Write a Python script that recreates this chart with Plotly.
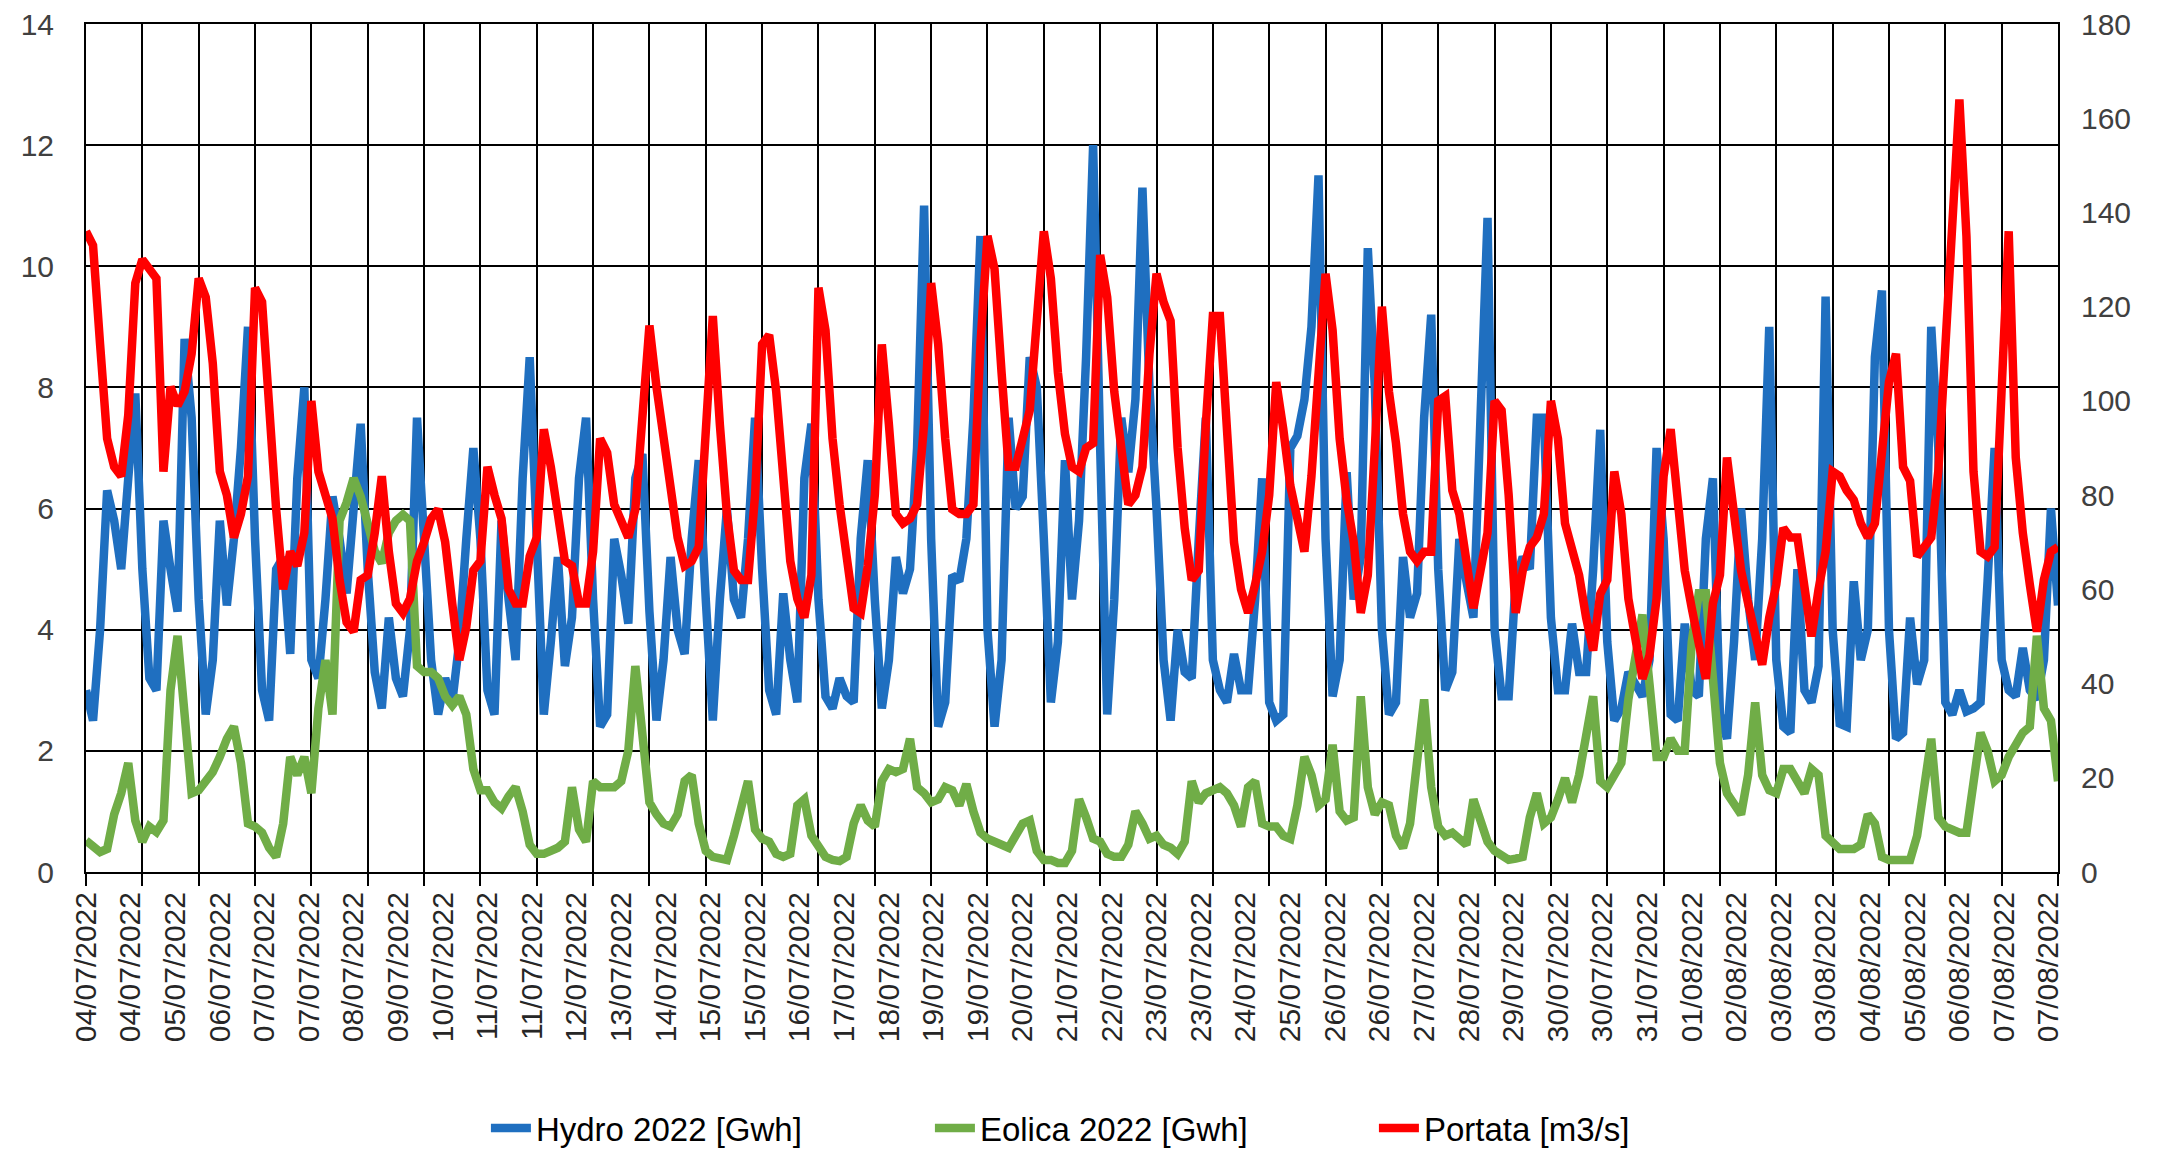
import plotly.graph_objects as go

# ---- data: 3-hourly readings (hours 0,3,...,840) from 04/07/2022 00:00 ----
hydro = [
    3.0, 2.5, 4.0, 6.3, 5.8, 5.0, 6.5, 7.9,
    5.0, 3.2, 3.0, 5.8, 5.0, 4.3, 8.8, 7.5,
    4.5, 2.6, 3.5, 5.8, 4.4, 5.5, 7.0, 9.0,
    5.5, 3.0, 2.5, 5.0, 5.2, 3.6, 6.5, 8.0,
    3.5, 3.2, 4.5, 6.2, 5.5, 4.6, 6.0, 7.4,
    5.0, 3.3, 2.7, 4.2, 3.2, 2.9, 4.0, 7.5,
    5.5, 3.5, 2.6, 3.2, 2.8, 3.8, 5.5, 7.0,
    5.5, 3.0, 2.6, 5.8, 4.5, 3.5, 6.5, 8.5,
    5.5, 2.6, 3.8, 5.2, 3.4, 4.2, 6.5, 7.5,
    4.5, 2.4, 2.6, 5.5, 4.9, 4.1, 6.5, 6.9,
    4.3, 2.5, 3.5, 5.2, 4.0, 3.6, 5.5, 6.8,
    4.5, 2.5, 4.5, 6.0, 4.5, 4.2, 5.5, 7.5,
    5.0, 3.0, 2.6, 4.6, 3.5, 2.8, 6.5, 7.4,
    4.5, 2.9, 2.7, 3.2, 2.9, 2.8, 5.5, 6.8,
    4.5, 2.7, 3.5, 5.2, 4.6, 5.0, 7.0, 11.0,
    5.5, 2.4, 2.8, 4.9, 4.8, 5.5, 7.5, 10.5,
    4.0, 2.4, 3.5, 7.5, 6.0, 6.2, 8.5, 8.0,
    5.5, 2.8, 3.8, 6.8, 4.5, 5.8, 8.5, 12.0,
    7.0, 2.6, 4.5, 7.5, 6.6, 7.8, 11.3, 8.0,
    6.0, 3.5, 2.5, 4.0, 3.3, 3.2, 5.5, 7.5,
    3.5, 3.0, 2.8, 3.6, 3.0, 3.0, 4.5, 6.5,
    2.8, 2.5, 2.6, 7.0, 7.2, 7.8, 9.0, 11.5,
    5.5, 2.9, 3.5, 6.6, 4.5, 5.2, 10.3, 8.0,
    4.0, 2.6, 2.8, 5.2, 4.2, 4.6, 7.5, 9.2,
    5.0, 3.0, 3.3, 5.5, 4.8, 4.2, 7.5, 10.8,
    4.0, 2.9, 2.9, 4.8, 5.2, 5.0, 7.5, 7.5,
    4.2, 3.0, 3.0, 4.1, 3.3, 3.3, 5.0, 7.3,
    3.8, 2.5, 2.7, 3.3, 3.1, 2.9, 3.5, 7.0,
    5.5, 2.6, 2.5, 4.1, 3.0, 2.9, 5.5, 6.5,
    2.6, 2.2, 3.8, 6.0, 4.5, 3.5, 5.5, 9.0,
    3.5, 2.4, 2.3, 5.0, 3.0, 2.8, 3.4, 9.5,
    4.0, 2.45, 2.4, 4.8, 3.5, 4.0, 8.5, 9.6,
    4.0, 2.2, 2.3, 4.2, 3.1, 3.5, 9.0, 7.0,
    2.8, 2.6, 3.0, 2.65, 2.7, 2.8, 4.8, 7.0,
    3.5, 3.0, 2.9, 3.7, 3.0, 2.85, 3.5, 6.0,
    4.4,
]

eolica = [
    0.52, 0.43, 0.33, 0.38, 0.95, 1.3, 1.8, 0.85,
    0.5, 0.75, 0.66, 0.85, 3.0, 3.9, 2.55, 1.3,
    1.35, 1.5, 1.65, 1.9, 2.2, 2.4, 1.8, 0.8,
    0.75, 0.65, 0.4, 0.25, 0.8, 1.9, 1.6, 1.9,
    1.3, 2.7, 3.5, 2.6, 5.8, 6.1, 6.5, 6.2,
    5.7, 5.3, 5.1, 5.6, 5.8, 5.9, 5.8, 3.4,
    3.3, 3.3, 3.2, 2.9, 2.75, 2.9, 2.6, 1.7,
    1.35, 1.35, 1.15, 1.05, 1.25, 1.4, 1.0, 0.45,
    0.3, 0.3, 0.35, 0.4, 0.5, 1.4, 0.7, 0.5,
    1.5, 1.4, 1.4, 1.4, 1.5, 2.0, 3.4, 2.2,
    1.15, 0.95, 0.8, 0.75, 0.95, 1.5, 1.6, 0.8,
    0.35, 0.25, 0.22, 0.2, 0.6, 1.1, 1.5, 0.7,
    0.55, 0.5, 0.3, 0.25, 0.3, 1.1, 1.2, 0.6,
    0.45, 0.25, 0.2, 0.18, 0.25, 0.8, 1.1, 0.85,
    0.75, 1.5, 1.7, 1.65, 1.7, 2.2, 1.4, 1.3,
    1.15, 1.2, 1.4, 1.35, 1.1, 1.45, 1.0, 0.65,
    0.55, 0.5, 0.45, 0.4, 0.6, 0.8, 0.85, 0.35,
    0.2, 0.2, 0.15, 0.15, 0.35, 1.2, 0.9, 0.55,
    0.5, 0.3, 0.25, 0.25, 0.45, 1.0, 0.8, 0.55,
    0.6, 0.45, 0.4, 0.3, 0.5, 1.5, 1.15, 1.3,
    1.35, 1.4, 1.3, 1.1, 0.75, 1.4, 1.5, 0.8,
    0.75, 0.75, 0.6, 0.55, 1.1, 1.9, 1.6, 1.1,
    1.2, 2.1, 1.0, 0.85, 0.9, 2.9, 1.4, 0.95,
    1.15, 1.1, 0.6, 0.4, 0.8, 2.0, 2.85, 1.4,
    0.75, 0.6, 0.65, 0.55, 0.45, 1.2, 0.8, 0.5,
    0.35, 0.28, 0.2, 0.22, 0.25, 0.9, 1.3, 0.8,
    0.9, 1.2, 1.55, 1.15, 1.6, 2.25, 2.9, 1.5,
    1.4, 1.6, 1.8, 2.85, 3.5, 4.25, 3.1, 1.9,
    1.9, 2.2, 2.0, 2.0, 3.8, 4.6, 4.6, 3.0,
    1.8, 1.3, 1.15, 0.95, 1.6, 2.8, 1.6, 1.35,
    1.3, 1.7, 1.7, 1.5, 1.3, 1.7, 1.6, 0.6,
    0.5, 0.38, 0.38, 0.38, 0.45, 0.95, 0.8, 0.25,
    0.2, 0.2, 0.2, 0.2, 0.6, 1.5, 2.2, 0.9,
    0.75, 0.7, 0.65, 0.65, 1.5, 2.3, 2.0, 1.5,
    1.6, 1.9, 2.1, 2.3, 2.4, 3.9, 2.7, 2.5,
    1.5,
]

portata = [
    136, 133, 112, 92, 86, 84, 97, 125,
    130, 128, 126, 85, 103, 99, 102, 110,
    126, 122, 108, 85, 80, 71, 76, 84,
    124, 121, 98, 77, 60, 68, 65, 72,
    100, 85, 80, 75, 62, 53, 51, 62,
    63, 72, 84, 68, 57, 55, 58, 66,
    70, 75, 77, 70, 57, 45, 52, 64,
    66, 86, 80, 75, 60, 57, 57, 67,
    71, 94, 86, 75, 66, 65, 57, 57,
    68, 92, 89, 78, 74, 71, 77, 95,
    116, 103, 93, 83, 71, 65, 66, 69,
    95, 118, 95, 76, 64, 62, 62, 80,
    112, 114, 102, 86, 66, 58, 54, 63,
    124, 115, 92, 78, 66, 56, 55, 65,
    80, 112, 95, 76, 74, 75, 78, 95,
    125, 112, 92, 77, 76, 76, 78, 112,
    135, 128, 106, 86, 86, 93, 98, 117,
    136, 126, 106, 93, 86, 85, 90, 91,
    131, 122, 102, 90, 78, 80, 86, 110,
    127, 121, 117, 90, 73, 62, 64, 95,
    118, 118, 96, 70, 60, 55, 61, 68,
    80, 104, 94, 82, 75, 68, 84, 103,
    127, 115, 92, 79, 70, 55, 63, 90,
    120, 102, 91, 76, 68, 66, 68, 68,
    100, 101, 81, 76, 65, 56, 64, 72,
    100, 98, 80, 55, 64, 69, 71, 76,
    100, 92, 74, 68, 63, 54, 47, 59,
    62, 85, 76, 58, 49, 41, 46, 58,
    84, 94, 79, 64, 56, 48, 41, 57,
    63, 88, 77, 64, 57, 51, 44, 54,
    61, 73, 71, 71, 60, 50, 60, 68,
    85, 84, 81, 79, 74, 71, 74, 88,
    104, 110, 86, 83, 67, 69, 71, 85,
    114, 138, 164, 135, 85, 68, 67, 69,
    100, 136, 88, 72, 61, 51, 62, 68,
    69,
]

# hour index of each reading
hours = list(range(0, 3 * len(hydro), 3))

# category labels shown on the x axis (every 19th hourly category)
tick_labels = [
    "04/07/2022", "04/07/2022", "05/07/2022", "06/07/2022", "07/07/2022",
    "07/07/2022", "08/07/2022", "09/07/2022", "10/07/2022", "11/07/2022",
    "11/07/2022", "12/07/2022", "13/07/2022", "14/07/2022", "15/07/2022",
    "15/07/2022", "16/07/2022", "17/07/2022", "18/07/2022", "19/07/2022",
    "19/07/2022", "20/07/2022", "21/07/2022", "22/07/2022", "23/07/2022",
    "23/07/2022", "24/07/2022", "25/07/2022", "26/07/2022", "26/07/2022",
    "27/07/2022", "28/07/2022", "29/07/2022", "30/07/2022", "30/07/2022",
    "31/07/2022", "01/08/2022", "02/08/2022", "03/08/2022", "03/08/2022",
    "04/08/2022", "05/08/2022", "06/08/2022", "07/08/2022", "07/08/2022",
]
tick_hours = [19 * i for i in range(len(tick_labels))]

BLUE = "#1F6FC0"
GREEN = "#70AD47"
RED = "#FF0000"
LW = 8.5

fig = go.Figure()
fig.add_trace(go.Scatter(x=hours, y=hydro, name="Hydro 2022 [Gwh]", mode="lines",
                         line=dict(color=BLUE, width=LW)))
fig.add_trace(go.Scatter(x=hours, y=eolica, name="Eolica 2022 [Gwh]", mode="lines",
                         line=dict(color=GREEN, width=LW)))
fig.add_trace(go.Scatter(x=hours, y=portata, name="Portata [m3/s]", mode="lines",
                         line=dict(color=RED, width=LW), yaxis="y2"))

tickfont_y = dict(family="Liberation Sans, Arial, sans-serif", size=30, color="#404040")

# the page body adds an 8px margin, so the figure is 8px smaller than the window
fig.update_layout(
    width=2157, height=1147,
    margin=dict(l=78, r=107, t=16, b=283, autoexpand=False),
    paper_bgcolor="white", plot_bgcolor="white",
    showlegend=True,
    legend=dict(orientation="h", x=0.2028, xanchor="left", y=-0.302, yanchor="middle",
                font=dict(family="Liberation Sans, Arial, sans-serif", size=33, color="#000000"),
                itemwidth=40, entrywidth=389, bgcolor="rgba(0,0,0,0)"),
    xaxis=dict(
        range=[0, 840], automargin=False,
        tickmode="array", tickvals=tick_hours, ticktext=tick_labels,
        tickangle=-90, ticks="", showgrid=False, zeroline=False,
        tickfont=dict(family="Liberation Sans, Arial, sans-serif", size=30, color="#262626"),
        showline=True, linecolor="black", linewidth=2, mirror=True,
        ticklabelstandoff=6, ticklabeloverflow="allow",
        minor=dict(tickmode="linear", tick0=0, dtick=24, showgrid=True,
                   gridcolor="black", gridwidth=1.8,
                   ticks="outside", ticklen=12, tickcolor="black", tickwidth=1.8),
    ),
    yaxis=dict(
        range=[0, 14], dtick=2, showgrid=True, gridcolor="black", gridwidth=1.8,
        automargin=False, ticklabeloverflow="allow",
        zeroline=False, showline=True, linecolor="black", linewidth=2, mirror=True,
        ticks="", tickfont=tickfont_y, ticklabelstandoff=24,
    ),
    yaxis2=dict(
        range=[0, 180], dtick=20, overlaying="y", side="right", showgrid=False,
        automargin=False, ticklabeloverflow="allow",
        zeroline=False, showline=False, ticks="", tickfont=tickfont_y,
        ticklabelstandoff=22,
    ),
)

fig.write_html("out.html")
